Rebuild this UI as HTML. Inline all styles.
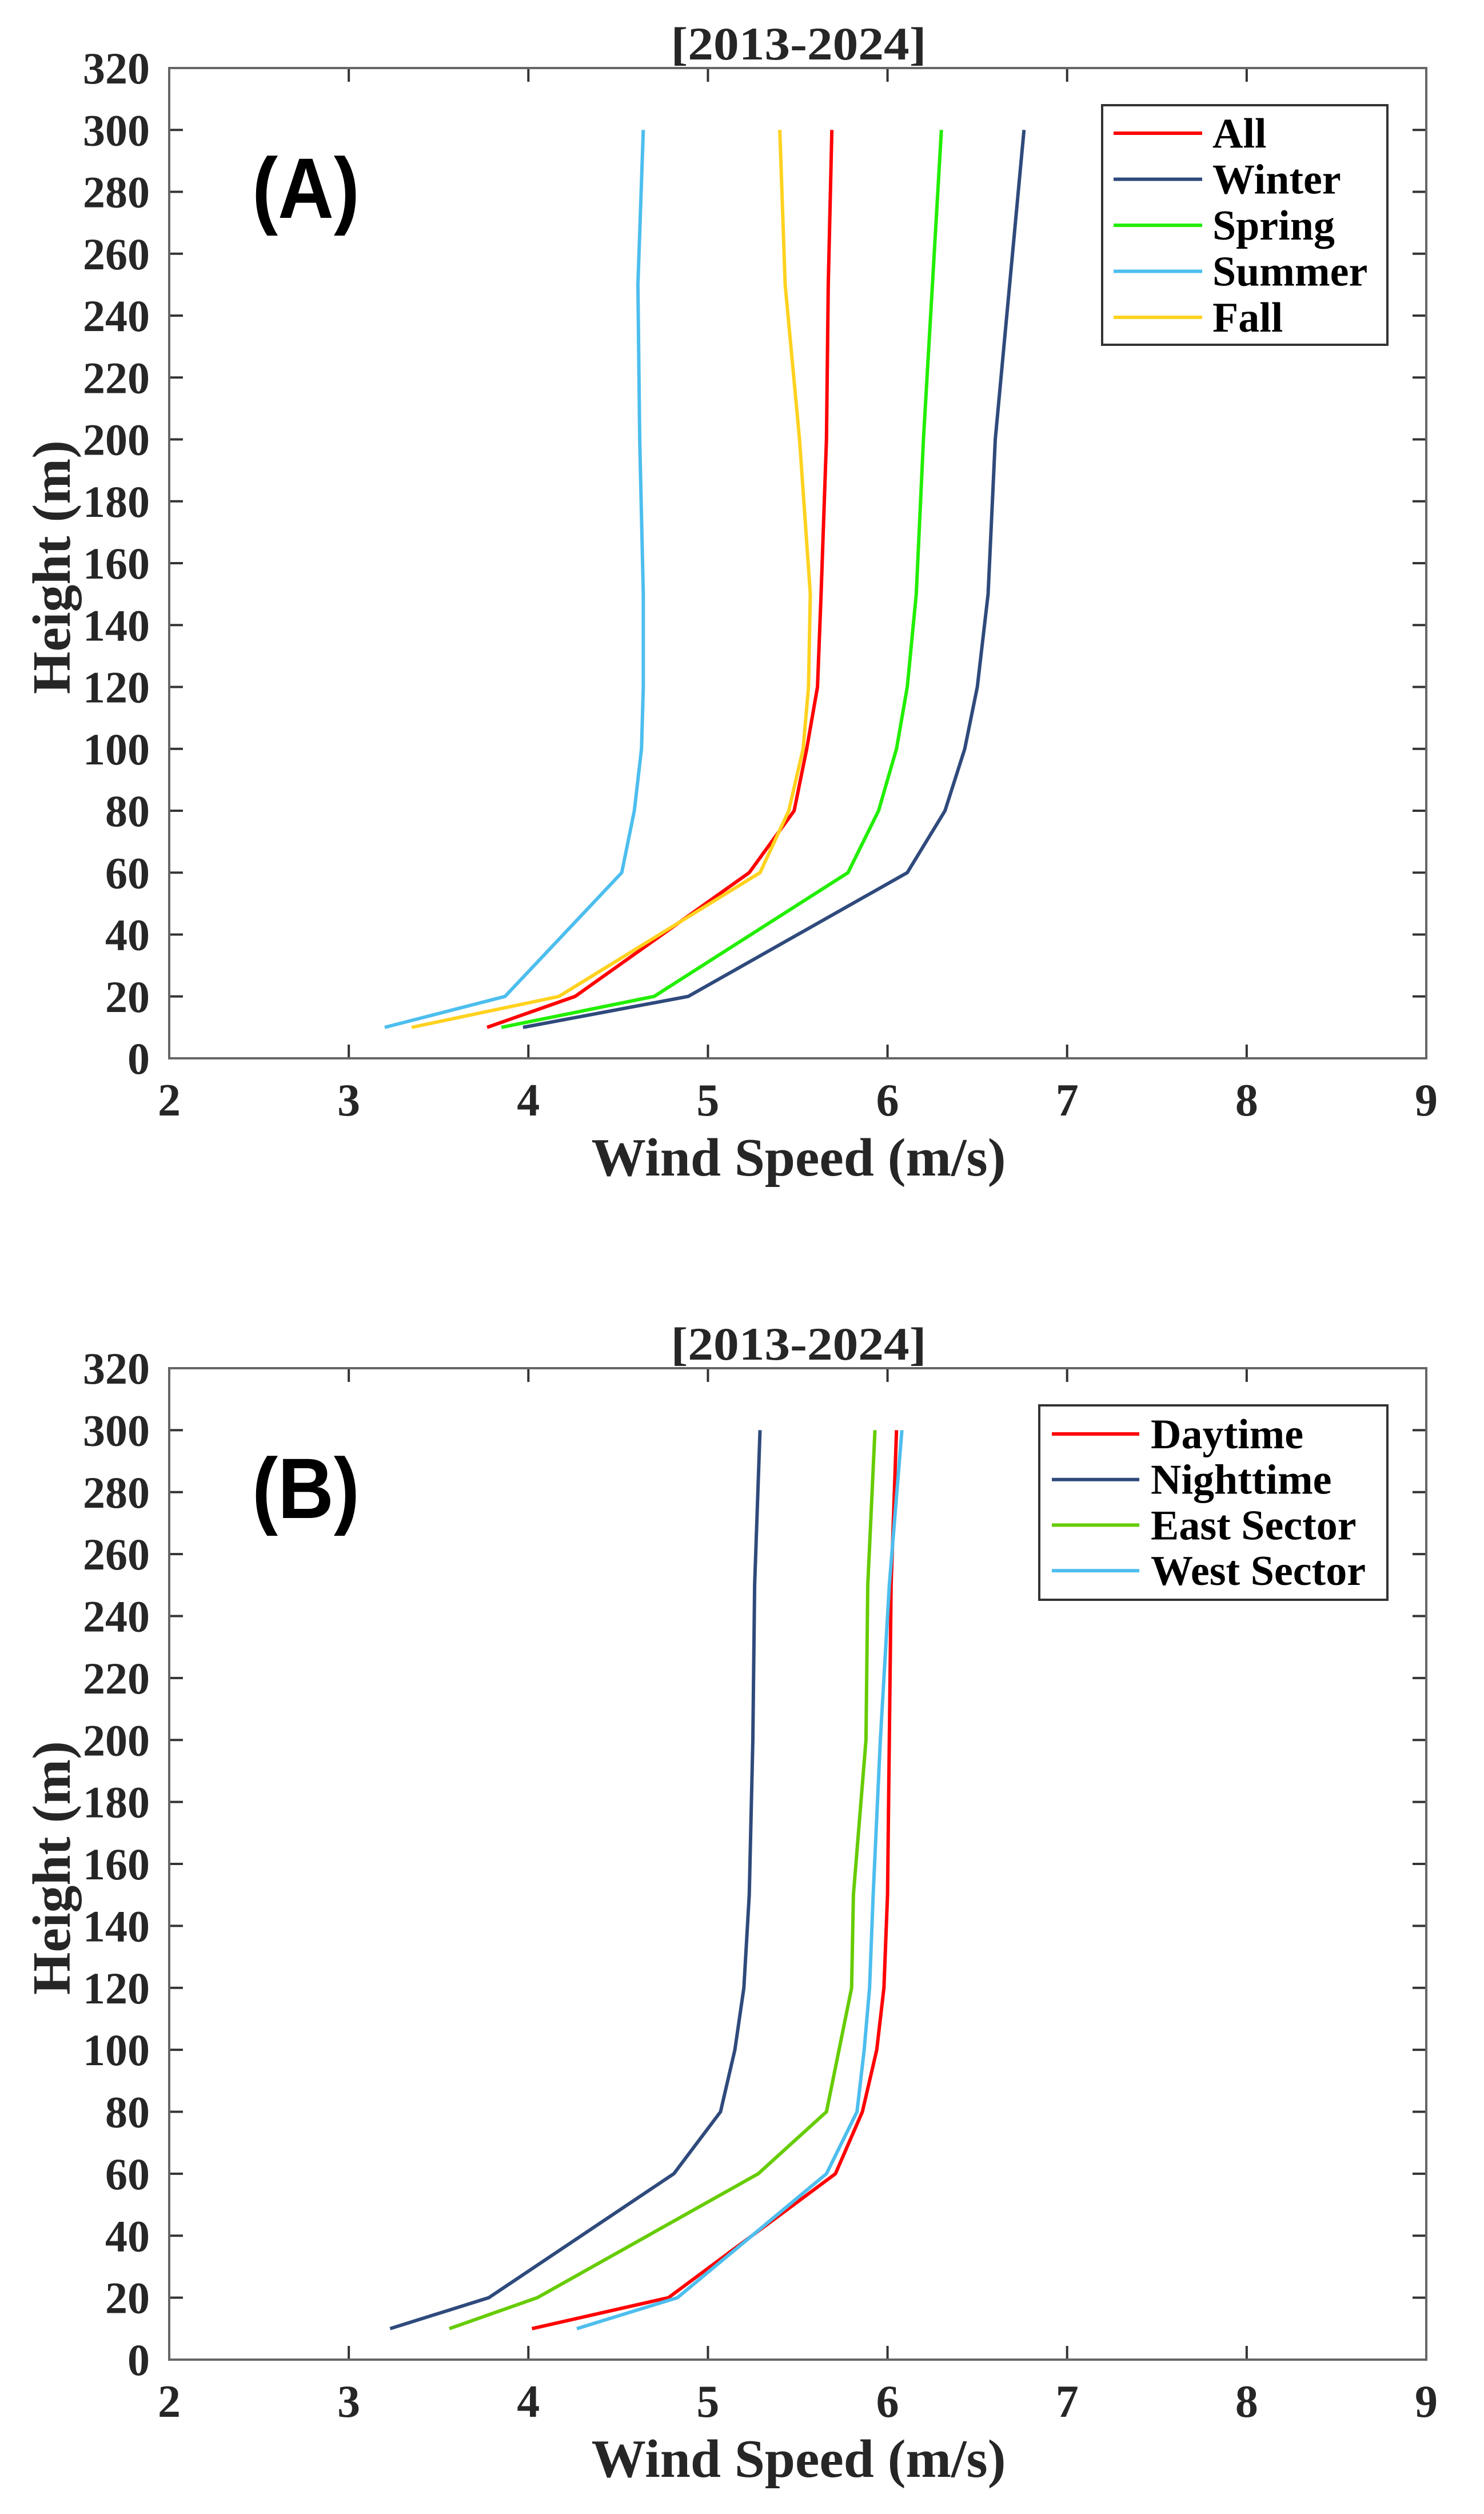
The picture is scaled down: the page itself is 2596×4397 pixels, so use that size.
<!DOCTYPE html>
<html><head><meta charset="utf-8"><style>
html,body{margin:0;padding:0;background:#fff;}
svg{display:block;}
text{font-family:"Liberation Serif",serif;font-weight:bold;fill:#262626;}
</style></head><body>
<svg id="fig" width="2596" height="4397" viewBox="0 0 2596 4397" xmlns="http://www.w3.org/2000/svg"></svg>
<script>
const heights = [10,20,60,80,100,120,150,200,250,300];
const allA = [3.77,4.26,5.23,5.48,5.55,5.61,5.63,5.66,5.67,5.69];
const winterA = [3.97,4.89,6.11,6.32,6.43,6.50,6.56,6.60,6.68,6.76];
const springA = [3.85,4.70,5.78,5.95,6.05,6.11,6.16,6.20,6.25,6.30];
const summerA = [3.20,3.87,4.52,4.59,4.63,4.64,4.64,4.62,4.61,4.64];
const fallA = [3.35,4.17,5.29,5.45,5.53,5.56,5.57,5.51,5.43,5.40];
const daytimeB = [4.02,4.78,5.71,5.86,5.94,5.98,6.00,6.01,6.02,6.05];
const nighttimeB = [3.23,3.78,4.81,5.07,5.15,5.20,5.23,5.25,5.26,5.29];
const eastB = [3.56,4.05,5.28,5.66,5.73,5.80,5.81,5.88,5.89,5.93];
const westB = [4.27,4.83,5.66,5.83,5.87,5.90,5.92,5.96,6.01,6.08];
const xTicks = [2,3,4,5,6,7,8,9];
const yTicks = [0,20,40,60,80,100,120,140,160,180,200,220,240,260,280,300,320];
const namesA = ["All","Winter","Spring","Summer","Fall"];
const namesB = ["Daytime","Nighttime","East Sector","West Sector"];

const NS="http://www.w3.org/2000/svg";
const svg=document.getElementById('fig');
function mk(tag,attrs,parent){const e=document.createElementNS(NS,tag);for(const k in attrs)e.setAttribute(k,attrs[k]);(parent||svg).appendChild(e);return e;}

function panel(top,bottom,label,seriesList,colors,names,leg,key){
  const L=296,R=2495;
  const x=v=>L+(v-2)*(R-L)/7;
  const y=v=>bottom-v*(bottom-top)/320;
  const g=mk('g',{});
  
  
  // ticks
  xTicks.forEach(t=>{
    const a=mk('line',{x1:x(t),x2:x(t),y1:bottom,y2:bottom-24,stroke:'#333','stroke-width':4},g);
    
    const b=mk('line',{x1:x(t),x2:x(t),y1:top,y2:top+24,stroke:'#333','stroke-width':4},g);
    
    const tx=mk('text',{x:x(t),y:bottom+100,'font-size':80,'text-anchor':'middle'},g);
    tx.textContent=t;
    
  });
  yTicks.forEach(t=>{
    const a=mk('line',{x1:L,x2:L+24,y1:y(t),y2:y(t),stroke:'#333','stroke-width':4},g);
    
    const b=mk('line',{x1:R,x2:R-24,y1:y(t),y2:y(t),stroke:'#333','stroke-width':4},g);
    
    const tx=mk('text',{x:262,y:y(t)+27,'font-size':78,'text-anchor':'end'},g);
    tx.textContent=t;
    
  });
  // series
  seriesList.forEach((s,i)=>{
    const pts=s.map((v,j)=>x(v)+','+y(heights[j])).join(' ');
    const p=mk('polyline',{points:pts,fill:'none',stroke:colors[i],'stroke-width':6,'stroke-linejoin':'miter'},g);
    
    
  });
  const box=mk('rect',{x:L,y:top,width:R-L,height:bottom-top,fill:'none',stroke:'#666','stroke-width':4},g);
  
  // labels
  const tt=mk('text',{x:1397,y:top-15,'font-size':82,'text-anchor':'middle',textLength:447,lengthAdjust:'spacingAndGlyphs'},g);
  tt.textContent='[2013-2024]';
  
  const xl=mk('text',{x:1397,y:bottom+205,'font-size':94,'text-anchor':'middle',textLength:725,lengthAdjust:'spacingAndGlyphs'},g);
  xl.textContent='Wind Speed (m/s)';
  
  const cy=(top+bottom)/2+7;
  const yl=mk('text',{x:0,y:0,'font-size':94,'text-anchor':'middle',textLength:444,lengthAdjust:'spacingAndGlyphs',transform:'translate(122,'+cy+') rotate(-90)'},g);
  yl.textContent='Height (m)';
  
  const pl=mk('text',{x:535,y:top+262,'font-size':150,'text-anchor':'middle',textLength:188,lengthAdjust:'spacingAndGlyphs',style:'font-family:"Liberation Sans",sans-serif;fill:#000'},g);
  pl.textContent=label;
  
  // legend
  const lg=mk('g',{},g);
  
  const lr=mk('rect',{x:leg.x1,y:leg.y1,width:leg.x2-leg.x1,height:leg.y2-leg.y1,fill:'#fff',stroke:'#333','stroke-width':4},lg);
  
  names.forEach((n,i)=>{
    const ry=leg.r0+i*leg.dy;
    const ln=mk('line',{x1:leg.lx1,x2:leg.lx2,y1:ry,y2:ry,stroke:colors[i],'stroke-width':6},lg);
    
    const t=mk('text',{x:leg.tx,y:ry+25,'font-size':74,fill:'#000',style:'fill:#000'},lg);
    t.textContent=n;
    
  });
}
panel(119,1851,'(A)',[allA,winterA,springA,summerA,fallA],
  ['#ff0000','#2f4a7c','#22ee00','#4dbeee','#ffd21f'],namesA,
  {x1:1928,x2:2427,y1:184,y2:603,lx1:1948,lx2:2103,tx:2121,r0:233,dy:80.5},'a');
panel(2393,4127,'(B)',[daytimeB,nighttimeB,eastB,westB],
  ['#ff0000','#2f4a7c','#66cc00','#4dbeee'],namesB,
  {x1:1818,x2:2427,y1:2458,y2:2798,lx1:1840,lx2:1993,tx:2013,r0:2508,dy:79.7},'b');
</script>
</body></html>
